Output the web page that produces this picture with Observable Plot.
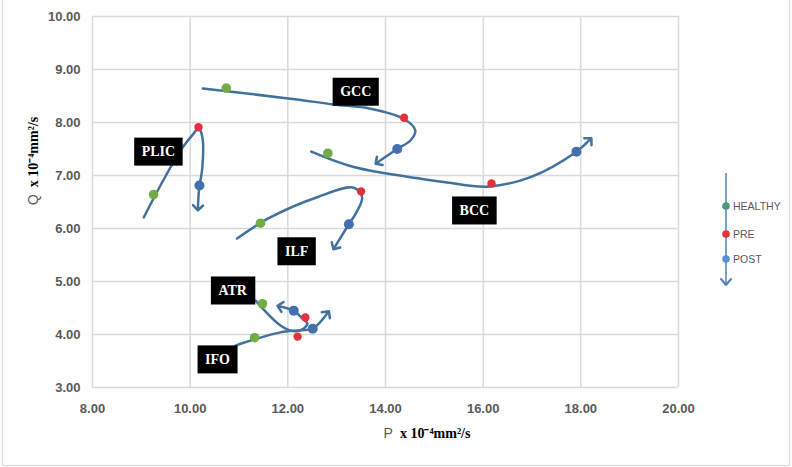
<!DOCTYPE html>
<html><head><meta charset="utf-8">
<script src="https://cdn.jsdelivr.net/npm/d3@7"></script>
<script src="https://cdn.jsdelivr.net/npm/@observablehq/plot@0.6"></script>
<style>body{margin:0;background:#fff}#chart{width:792px;height:467px;position:relative}</style>
</head><body><div id="chart"></div>
<script>
// ---- data ----
const tracts   = ["PLIC", "GCC", "BCC", "ILF", "ATR", "IFO"];
const healthyP = [9.25, 10.74, 12.82, 11.44, 11.48, 11.32];
const healthyQ = [6.64, 8.65, 7.42, 6.10, 4.58, 3.94];
const preP     = [10.17, 14.38, 16.17, 13.50, 12.36, 12.20];
const preQ     = [7.91, 8.09, 6.85, 6.70, 4.32, 3.96];
const postP    = [10.19, 14.24, 17.91, 13.25, 12.12, 12.51];
const postQ    = [6.81, 7.50, 7.45, 6.08, 4.45, 4.11];
const labelP   = [9.35, 13.39, 15.82, 12.18, 10.87, 10.56];
const labelQ   = [7.45, 8.58, 6.34, 5.57, 4.83, 3.53];
// hand-drawn trajectory arrows (P, Q)
const pathPLIC = [[9.05,6.21],[9.45,6.91],[9.80,7.47],[10.07,7.79],[10.17,7.89],[10.25,7.72],[10.25,7.16],[10.18,6.72],[10.16,6.39]];
const pathGCC  = [[10.26,8.64],[12.05,8.45],[12.94,8.34],[13.69,8.26],[14.37,8.07],[14.61,7.85],[14.51,7.66],[14.24,7.50],[13.84,7.25]];
const pathBCC  = [[12.48,7.45],[13.35,7.16],[14.72,6.94],[15.26,6.87],[16.08,6.79],[16.97,6.97],[17.91,7.45],[18.18,7.67]];
const pathILF  = [[10.96,5.81],[11.58,6.18],[12.60,6.59],[13.35,6.77],[13.52,6.59],[13.39,6.28],[13.25,6.08],[12.96,5.65]];
const pathATR  = [[11.34,4.64],[11.85,4.17],[12.12,4.06],[12.32,4.11],[12.40,4.21],[12.30,4.30],[12.12,4.45],[11.84,4.53]];
const pathIFO  = [[10.93,3.79],[11.32,3.91],[11.85,4.04],[12.26,4.08],[12.51,4.11],[12.81,4.40]];
const xTicks = [8, 10, 12, 14, 16, 18, 20];
const yTicks = [3, 4, 5, 6, 7, 8, 9, 10];
const legendItems = ["HEALTHY", "PRE", "POST"];

// ---- tables ----
const paths = {PLIC: pathPLIC, GCC: pathGCC, BCC: pathBCC, ILF: pathILF, ATR: pathATR, IFO: pathIFO};
const lineData = tracts.flatMap(t => paths[t].map(([p, q]) => ({tract: t, p, q})));
const healthy = tracts.map((t, i) => ({tract: t, p: healthyP[i], q: healthyQ[i]}));
const pre = tracts.map((t, i) => ({tract: t, p: preP[i], q: preQ[i]}));
const post = tracts.map((t, i) => ({tract: t, p: postP[i], q: postQ[i]}));
const labels = tracts.map((t, i) => ({tract: t, p: labelP[i], q: labelQ[i]}));

const curveColor = "#41719c";
const svg = Plot.plot({
  width: 792, height: 467,
  marginLeft: 92, marginRight: 114, marginTop: 16, marginBottom: 80,
  style: {background: "#fff", fontFamily: "'Liberation Sans', Arial, sans-serif", fontSize: "13px", fontWeight: "bold", color: "#595959"},
  x: {domain: [8, 20], ticks: xTicks, tickFormat: d => d.toFixed(2), tickSize: 0, tickPadding: 16, label: null},
  y: {domain: [3, 10], ticks: yTicks, tickFormat: d => d.toFixed(2), tickSize: 0, tickPadding: 12, label: null},
  marks: [
    Plot.ruleX(xTicks, {x: d => d, stroke: "#d9d9d9", strokeWidth: 1.5}),
    Plot.ruleY(yTicks, {y: d => d, stroke: "#d9d9d9", strokeWidth: 1.5}),
    Plot.line(lineData, {x: "p", y: "q", z: "tract", curve: "catmull-rom", stroke: curveColor, strokeWidth: 2.5, markerEnd: "arrow"}),
    Plot.dot(healthy, {x: "p", y: "q", r: 4.8, fill: "#70ad47"}),
    Plot.dot(pre, {x: "p", y: "q", r: 4.2, fill: "#e5323a"}),
    Plot.dot(post, {x: "p", y: "q", r: 5, fill: "#4470b0"}),
    Plot.text(labels, {x: "p", y: "q", text: "tract", fill: "white", fontFamily: "'Liberation Serif', 'DejaVu Serif', serif", fontWeight: "bold", fontSize: 14})
  ]
});
document.getElementById("chart").appendChild(svg);

const s = d3.select(svg);
// label boxes
s.selectAll('g[aria-label="text"] text').each(function() {
  const bb = this.getBBox();
  const padX = 7.5, padY = 6.5;
  const r = document.createElementNS("http://www.w3.org/2000/svg", "rect");
  r.setAttribute("x", bb.x - padX);
  r.setAttribute("y", bb.y - padY);
  r.setAttribute("width", bb.width + 2 * padX);
  r.setAttribute("height", bb.height + 2 * padY);
  r.setAttribute("fill", "black");
  const tr = this.getAttribute("transform");
  if (tr) r.setAttribute("transform", tr);
  this.parentNode.insertBefore(r, this);
});

// outer border
s.append("rect").attr("x", 2.5).attr("y", -1).attr("width", 787).attr("height", 466.5)
  .attr("fill", "none").attr("stroke", "#d9d9d9").attr("stroke-width", 1.2);

// axis titles
const xt = s.append("text").attr("x", 427).attr("y", 438).attr("text-anchor", "middle").style("font-weight", "normal");
xt.append("tspan").text("P").attr("fill", "#595959").style("font-family", "'Liberation Sans', Arial, sans-serif").style("font-size", "14px");
xt.append("tspan").text("  x 10⁻⁴mm²/s").attr("fill", "#000").style("font-family", "'Liberation Serif', serif").style("font-weight", "bold").style("font-size", "14px");
const yt = s.append("text").attr("transform", "translate(38,161) rotate(-90)").attr("text-anchor", "middle").style("font-weight", "normal");
yt.append("tspan").text("Q").attr("fill", "#595959").style("font-family", "'Liberation Sans', Arial, sans-serif").style("font-size", "14px");
yt.append("tspan").text("  x 10⁻⁴mm²/s").attr("fill", "#000").style("font-family", "'Liberation Serif', serif").style("font-weight", "bold").style("font-size", "14px");

// legend
const lg = s.append("g").attr("text-anchor", "start");
lg.append("line").attr("x1", 726).attr("x2", 726).attr("y1", 173).attr("y2", 284)
  .attr("stroke", "#4f81bd").attr("stroke-width", 1.5);
lg.append("path").attr("d", "M721,279L726,285L731,279").attr("fill", "none")
  .attr("stroke", "#4f81bd").attr("stroke-width", 2).attr("stroke-linejoin", "round").attr("stroke-linecap", "round");
const legColors = ["#4c9a78", "#e5323a", "#5b8fd0"];
const legY = [206, 234, 259];
legendItems.forEach((t, i) => {
  lg.append("circle").attr("cx", 726).attr("cy", legY[i]).attr("r", 3.8).attr("fill", legColors[i]);
  lg.append("text").attr("x", 733).attr("y", legY[i]).attr("dy", "0.35em").attr("text-anchor", "start").text(t)
    .attr("fill", "#595959").style("font-weight", "normal").style("font-size", "10.5px")
    .style("font-family", "'Liberation Sans', Arial, sans-serif");
});
</script>
</body></html>
